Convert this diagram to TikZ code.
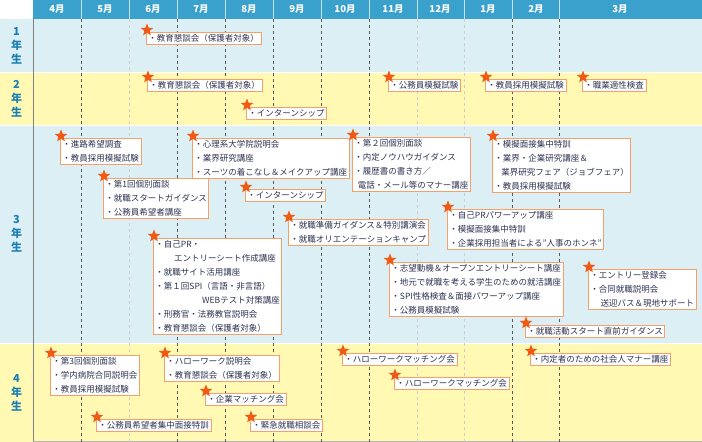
\documentclass[tikz,border=0pt]{standalone}
\usepackage{fontspec}
\setmainfont{Noto Sans CJK JP}
\usetikzlibrary{shapes.geometric}

\definecolor{hdrblue}{HTML}{3AA0CC}
\definecolor{rowblue}{HTML}{DBEFF5}
\definecolor{rowyellow}{HTML}{FFF9B3}
\definecolor{yearblue}{HTML}{1C7FB3}
\definecolor{boxedge}{HTML}{F4A06A}
\definecolor{starred}{HTML}{F05A14}
\definecolor{txtgray}{HTML}{2E3352}

\tikzset{
  evbox/.style={draw=boxedge, line width=0.9pt, fill=white, anchor=north west,
    align=left, inner xsep=2pt, inner ysep=2pt, text=txtgray,
    font=\fontsize{8.5}{14}\selectfont},
  evstar/.style={star, star points=5, star point ratio=2.3, fill=starred,
    inner sep=0pt, minimum size=13pt},
  yearlbl/.style={text=yearblue, font=\bfseries\fontsize{11}{14}\selectfont, align=center},
  monthlbl/.style={text=white, font=\bfseries\fontsize{9.5}{10}\selectfont},
  darkgrid/.style={gray!70!black, dashed, line width=0.6pt},
  lightgrid/.style={gray!40, dashed, line width=0.6pt}
}

% event box with a star at its corner
\newcommand{\evt}[4]{%
  \node[evbox] (#1) at (#2,#3) {#4};
  \node[evstar] (#1s) at ([xshift=1pt,yshift=2pt]#1.north west) {};
}

\begin{document}
\begin{tikzpicture}[x=1pt, y=-1pt]
\useasboundingbox (0,0) rectangle (702,442);

% -------- rows --------
\fill[hdrblue] (33,0) rectangle (702,19);
\fill[rowblue] (0,19) rectangle (702,72);
\fill[rowyellow] (0,72) rectangle (702,125);
\fill[rowblue] (0,125) rectangle (702,343);
\fill[rowyellow] (0,343) rectangle (702,442);
\draw[white, line width=1pt] (0,72) -- (702,72) (0,125) -- (702,125) (0,343) -- (702,343);
\draw[gray, line width=0.8pt] (33,19) -- (33,442);
\draw[gray!60, line width=0.8pt] (33,441.5) -- (702,441.5);

% -------- month lines --------
\foreach \mx in {81,177,225,273,321,369,512,559}
  \draw[darkgrid] (\mx,19) -- (\mx,442);
\foreach \mx in {129,417,464}
  \draw[lightgrid] (\mx,19) -- (\mx,442);
\foreach \mx in {81,129,177,225,273,321,369,417,464,512,559}
  \draw[white!70!hdrblue, line width=0.6pt] (\mx,0) -- (\mx,19);

% -------- month names --------
\foreach \mx/\mname in {57/4月,105/5月,153/6月,201/7月,249/8月,297/9月,345/10月,393/11月,440/12月,488/1月,536/2月,620/3月}
  \node[monthlbl] (m\mx) at (\mx,9.5) {\mname};

% -------- years --------
\node[yearlbl] (y1) at (16.5,45.5) {1\\年\\生};
\node[yearlbl] (y2) at (16.5,98.5) {2\\年\\生};
\node[yearlbl] (y3) at (16.5,234) {3\\年\\生};
\node[yearlbl] (y4) at (16.5,392.5) {4\\年\\生};

% -------- 1st year --------
\evt{a1}{146}{32}{・教育懇談会（保護者対象）}

% -------- 2nd year --------
\evt{b1}{147}{79}{・教育懇談会（保護者対象）}
\evt{b2}{246}{107}{・インターンシップ}
\evt{b3}{388}{79}{・公務員模擬試験}
\evt{b4}{485}{79}{・教員採用模擬試験}
\evt{b5}{582}{79}{・職業適性検査}

% -------- 3rd year --------
\evt{c1}{60}{138}{・進路希望調査\\・教員採用模擬試験}
\evt{c2}{103}{178}{・第1回個別面談\\・就職スタートガイダンス\\・公務員希望者講座}
\evt{c3}{192}{138}{・心理系大学院説明会\\・業界研究講座\\・スーツの着こなし＆メイクアップ講座}
\evt{c4}{245}{189}{・インターンシップ}
\evt{c5}{288}{219}{・就職準備ガイダンス＆特別講演会\\・就職オリエンテーションキャンプ}
\evt{c6}{153}{238}{・自己PR・\\\hspace*{2.2em}エントリーシート作成講座\\・就職サイト活用講座\\・第１回SPI（言語・非言語）\\\hspace*{5.5em}WEBテスト対策講座\\・刑務官・法務教官説明会\\・教育懇談会（保護者対象）}
\evt{c7}{352}{137}{・第２回個別面談\\・内定ノウハウガイダンス\\・履歴書の書き方／\\\hspace*{0.4em}電話・メール等のマナー講座}
\evt{c8}{492}{138}{・模擬面接集中特訓\\・業界・企業研究講座＆\\\hspace*{0.8em}業界研究フェア（ジョブフェア）\\・教員採用模擬試験}
\evt{c9}{447}{209}{・自己PRパワーアップ講座\\・模擬面接集中特訓\\・企業採用担当者による"人事のホンネ"}
\evt{c10}{389}{262}{・志望動機＆オープンエントリーシート講座\\・地元で就職を考える学生のための就活講座\\・SPI性格検査＆面接パワーアップ講座\\・公務員模擬試験}
\evt{c11}{588}{269}{・エントリー登録会\\・合同就職説明会\\\hspace*{1.2em}送迎バス＆現地サポート}
\evt{c12}{525}{325}{・就職活動スタート直前ガイダンス}

% -------- 4th year --------
\evt{d1}{50}{355}{・第3回個別面談\\・学内病院合同説明会\\・教員採用模擬試験}
\evt{d2}{164}{355}{・ハローワーク説明会\\・教育懇談会（保護者対象）}
\evt{d3}{205}{393}{・企業マッチング会}
\evt{d4}{96}{419}{・公務員希望者集中面接特訓}
\evt{d5}{250}{419}{・緊急就職相談会}
\evt{d6}{342}{353}{・ハローワークマッチング会}
\evt{d7}{394}{377}{・ハローワークマッチング会}
\evt{d8}{530}{353}{・内定者のための社会人マナー講座}

\end{tikzpicture}
\end{document}
